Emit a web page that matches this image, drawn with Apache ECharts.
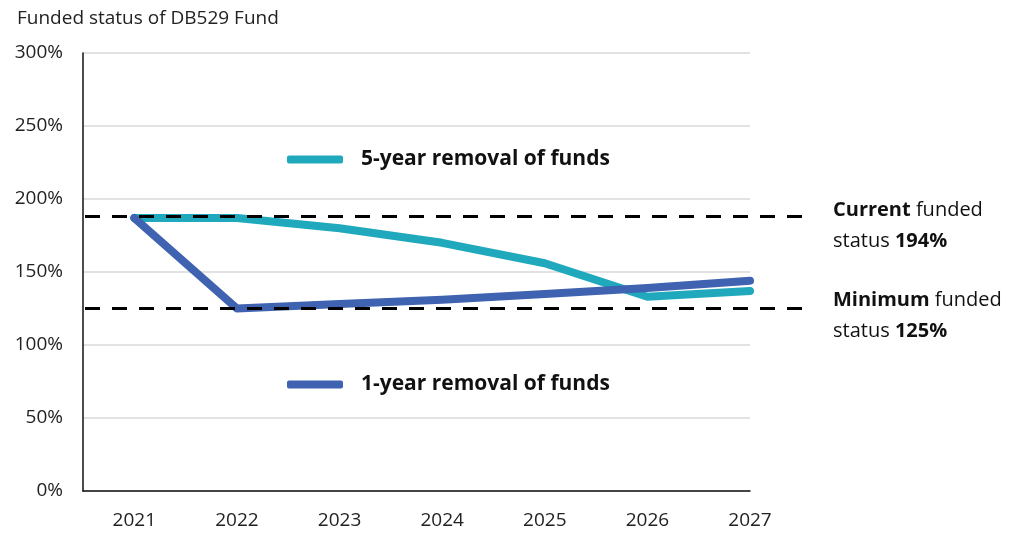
<!DOCTYPE html>
<html>
<head>
<meta charset="utf-8">
<title>Funded status of DB529 Fund</title>
<script src="https://cdn.jsdelivr.net/npm/echarts@6/dist/echarts.min.js"></script>
<style>
  html, body { margin: 0; padding: 0; background: #fff; }
  #chart { width: 1018px; height: 535px; }
</style>
</head>
<body>
<div id="chart"></div>
<script>
// 数据
const years = [2021, 2022, 2023, 2024, 2025, 2026, 2027]
const fiveYear = [187, 187, 180, 170, 156, 133, 137]
const oneYear = [187, 125, 128, 131, 135, 139, 144]
const yTicks = [0, 50, 100, 150, 200, 250, 300]
const currentLevel = 188
const minimumLevel = 125

const FONT = '"Open Sans", "Noto Sans", sans-serif'
const TEAL = '#20a9bd'
const BLUE = '#3f63b0'

const chart = echarts.init(document.getElementById('chart'))

// 虚线（延伸到绘图区外）
const dashLine = (level) => ({
  type: 'line',
  xAxisIndex: 1,
  yAxisIndex: 1,
  data: [[0, level], [1, level]],
  symbol: 'none',
  silent: true,
  z: 5,
  lineStyle: { color: '#000', width: 3, type: [15, 12] }
})

const legendText = { fontFamily: FONT, fontSize: 21, fontWeight: 'bold', color: '#111', padding: [0, 0, 0, 13] }

const option = {
  animation: false,
  textStyle: { fontFamily: FONT },
  title: {
    text: 'Funded status of DB529 Fund',
    left: 12,
    top: 4,
    textStyle: { fontFamily: FONT, fontSize: 19, fontWeight: 'normal', color: '#222' }
  },
  legend: [
    {
      data: ['5-year removal of funds'],
      left: 287,
      top: 149,
      padding: 0,
      icon: 'roundRect',
      itemWidth: 56,
      itemHeight: 8,
      textStyle: legendText
    },
    {
      data: ['1-year removal of funds'],
      left: 287,
      top: 374,
      padding: 0,
      icon: 'roundRect',
      itemWidth: 56,
      itemHeight: 8,
      textStyle: legendText
    }
  ],
  grid: [
    { left: 83, right: 268, top: 53, bottom: 44 },
    { left: 85, right: 215, top: 53, bottom: 44 }
  ],
  xAxis: [
    {
      type: 'value',
      gridIndex: 0,
      min: 2020.5,
      max: 2027,
      splitLine: { show: false },
      axisTick: { show: false },
      axisLine: { show: true, onZero: false, lineStyle: { color: '#111', width: 1.5 } },
      axisLabel: {
        customValues: years,
        formatter: (v) => String(v),
        margin: 20,
        fontFamily: FONT,
        fontSize: 19,
        color: '#222'
      }
    },
    { type: 'value', gridIndex: 1, min: 0, max: 1, show: false }
  ],
  yAxis: [
    {
      type: 'value',
      gridIndex: 0,
      min: 0,
      max: 300,
      interval: 50,
      axisLine: { show: true, lineStyle: { color: '#111', width: 1.5 } },
      axisTick: { show: false },
      splitLine: { lineStyle: { color: '#d9d9d9', width: 1.5 } },
      axisLabel: {
        customValues: yTicks,
        formatter: '{value}%',
        margin: 20,
        fontFamily: FONT,
        fontSize: 19,
        color: '#222'
      }
    },
    { type: 'value', gridIndex: 1, min: 0, max: 300, show: false }
  ],
  series: [
    {
      name: '5-year removal of funds',
      type: 'line',
      data: years.map((y, i) => [y, fiveYear[i]]),
      symbol: 'none',
      itemStyle: { color: TEAL },
      lineStyle: { color: TEAL, width: 8, cap: 'round', join: 'round' },
      z: 2
    },
    {
      name: '1-year removal of funds',
      type: 'line',
      data: years.map((y, i) => [y, oneYear[i]]),
      symbol: 'none',
      itemStyle: { color: BLUE },
      lineStyle: { color: BLUE, width: 8, cap: 'round', join: 'round' },
      z: 3
    },
    dashLine(currentLevel),
    dashLine(minimumLevel)
  ],
  graphic: [
    {
      type: 'text',
      left: 833,
      top: 195,
      style: {
        text: '{b|Current} funded\nstatus {b|194%}',
        fontFamily: FONT,
        fontSize: 20,
        lineHeight: 31,
        fill: '#111',
        rich: { b: { fontFamily: FONT, fontSize: 20, fontWeight: 'bold', lineHeight: 31, fill: '#111' } }
      }
    },
    {
      type: 'text',
      left: 833,
      top: 285,
      style: {
        text: '{b|Minimum} funded\nstatus {b|125%}',
        fontFamily: FONT,
        fontSize: 20,
        lineHeight: 31,
        fill: '#111',
        rich: { b: { fontFamily: FONT, fontSize: 20, fontWeight: 'bold', lineHeight: 31, fill: '#111' } }
      }
    }
  ]
}

chart.setOption(option)
</script>
</body>
</html>
